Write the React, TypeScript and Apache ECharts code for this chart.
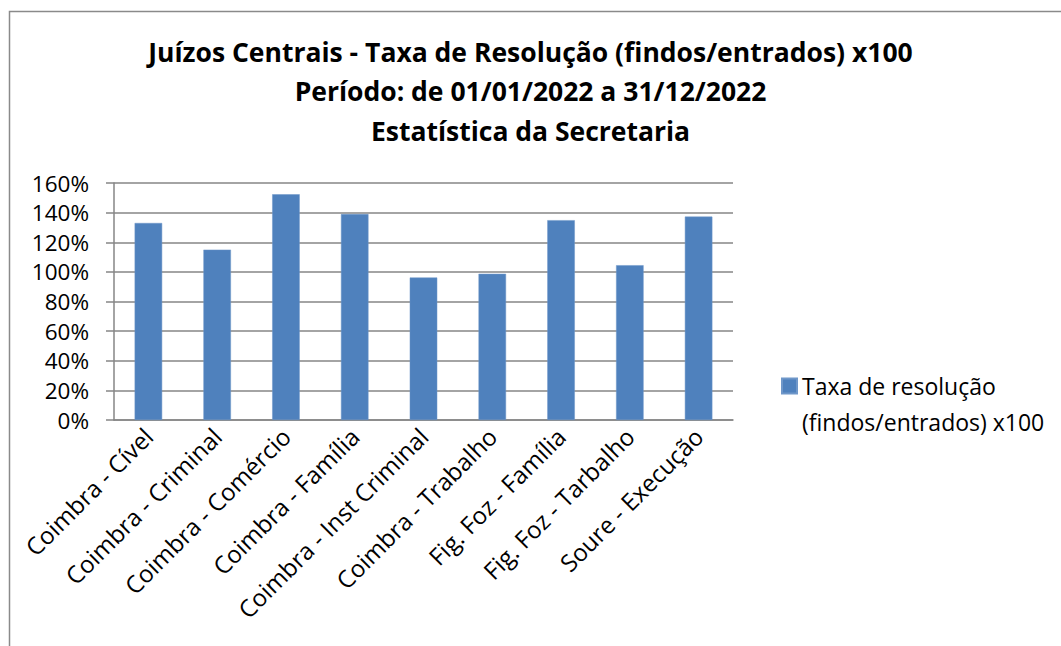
import React, { useEffect, useRef } from "react";
import * as echarts from "echarts";

const categories = [
  "Coimbra - Cível",
  "Coimbra - Criminal",
  "Coimbra - Comércio",
  "Coimbra - Família",
  "Coimbra - Inst Criminal",
  "Coimbra - Trabalho",
  "Fig. Foz - Família",
  "Fig. Foz - Tarbalho",
  "Soure - Execução",
];
const seriesName = "Taxa de resolução\n(findos/entrados) x100";
const values = [133, 115, 152.4, 139, 96.2, 98.7, 134.9, 104.5, 137.3];
const titleLines = [
  "Juízos Centrais - Taxa de Resolução (findos/entrados) x100",
  "Período: de 01/01/2022 a 31/12/2022",
  "Estatística da Secretaria",
];

const FONT = "'Open Sans', 'Noto Sans', sans-serif";

export default function App() {
  const ref = useRef<HTMLDivElement>(null);
  useEffect(() => {
    if (!ref.current) return;
    const chart = echarts.init(ref.current, null, { renderer: "svg" });
    chart.setOption({
      animation: false,
      backgroundColor: "#ffffff",
      title: {
        text: titleLines.join("\n"),
        left: "center",
        top: 27,
        textStyle: {
          fontFamily: FONT,
          fontWeight: "bold",
          fontSize: 26.5,
          lineHeight: 39.5,
          color: "#000",
        },
      },
      graphic: [
        {
          type: "rect",
          shape: { x: 9.5, y: 11.5, width: 1200, height: 800 },
          style: { fill: "none", stroke: "#8a8a8a", lineWidth: 1.5 },
          silent: true,
        },
      ],
      legend: {
        left: 776,
        top: 363,
        orient: "vertical",
        itemWidth: 15,
        itemHeight: 51,
        icon: "path://M0,0H10V10H0Z M0,34L0.01,34",
        textStyle: {
          fontFamily: FONT,
          fontSize: 23,
          lineHeight: 36,
          color: "#000",
        },
        data: [seriesName],
      },
      grid: { left: 114, right: 328, top: 183, bottom: 226 },
      xAxis: {
        type: "category",
        data: categories,
        axisLine: { lineStyle: { color: "#868686", width: 1.5 } },
        axisTick: { alignWithLabel: false, length: 8, lineStyle: { color: "#868686", width: 1.5 } },
        axisLabel: {
          rotate: 45,
          interval: 0,
          fontFamily: FONT,
          fontSize: 24,
          color: "#000",
          margin: 12,
        },
      },
      yAxis: {
        type: "value",
        min: 0,
        max: 160,
        interval: 20,
        axisLine: { show: true, lineStyle: { color: "#868686", width: 1.5 } },
        axisTick: { show: true, length: 8, lineStyle: { color: "#868686", width: 1.5 } },
        splitLine: { lineStyle: { color: "#868686", width: 1.5 } },
        axisLabel: {
          formatter: (v: number) => `${v}%`,
          fontFamily: FONT,
          fontSize: 22.5,
          color: "#000",
          margin: 25,
        },
      },
      series: [
        {
          name: seriesName,
          type: "bar",
          data: values,
          barCategoryGap: "60%",
          itemStyle: { color: "#4F81BD", borderColor: "#6f97c9", borderWidth: 0.5 },
        },
      ],
    });
    return () => chart.dispose();
  }, []);
  return (
    <div
      ref={ref}
      style={{ position: "fixed", left: 0, top: 0, width: 1061, height: 646 }}
    />
  );
}
